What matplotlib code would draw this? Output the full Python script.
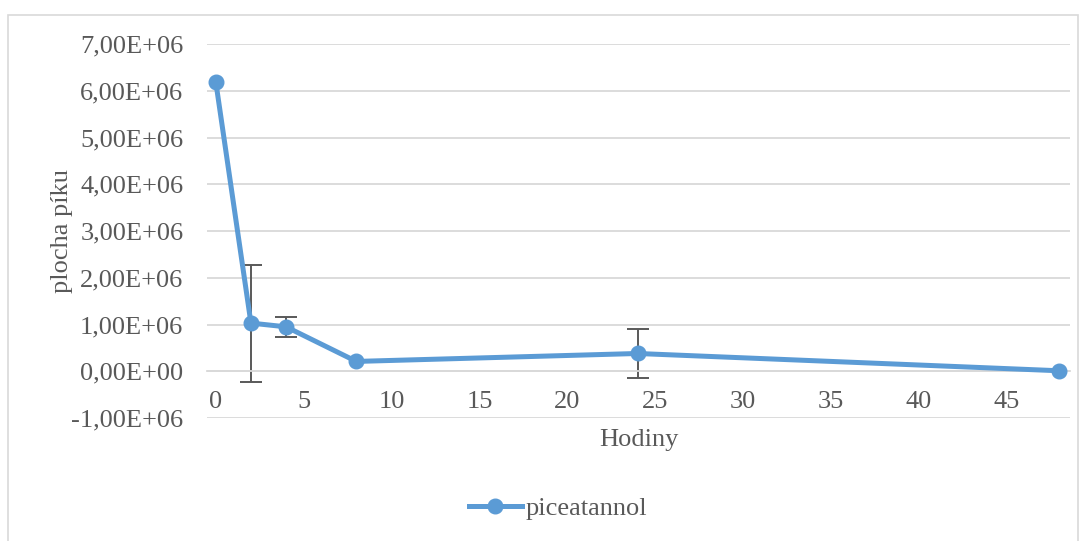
import matplotlib
matplotlib.use("Agg")

import matplotlib.pyplot as plt
from matplotlib.patches import Rectangle
from matplotlib.ticker import FuncFormatter, MultipleLocator

hours = [0, 2, 4, 8, 24, 48]
peak_area = [6.19e6, 1.03e6, 0.95e6, 0.21e6, 0.38e6, 0.01e6]
peak_err = [0, 1.25e6, 0.22e6, 0, 0.52e6, 0]

series_label = "piceatannol"
x_title = "Hodiny"
y_title = "plocha píku"

blue = "#5B9BD5"
text_gray = "#595959"
grid_gray = "#D9D9D9"

plt.rcParams["font.family"] = ["Liberation Serif", "DejaVu Serif"]

fig = plt.figure(figsize=(10.88, 5.41), dpi=100)
ax = fig.add_axes([207 / 1088, 1 - 418 / 541, 863 / 1088, 374 / 541])

# chart border like the Excel chart area
fig.patches.append(Rectangle((8 / 1088, -0.1), 1070 / 1088, 1.1 - 15 / 541,
                             transform=fig.transFigure, fill=False,
                             edgecolor=grid_gray, linewidth=1.2))

# only points with a non-zero spread get an error bar (no stray caps)
eb_x = [h for h, e in zip(hours, peak_err) if e > 0]
eb_y = [v for v, e in zip(peak_area, peak_err) if e > 0]
eb_e = [e for e in peak_err if e > 0]
ax.errorbar(eb_x, eb_y, yerr=eb_e, fmt="none", ecolor=text_gray,
            elinewidth=1.4, capsize=8, capthick=1.4, zorder=2)
ax.plot(hours, peak_area, color=blue, linewidth=3.6, marker="o",
        markersize=10.5, label=series_label, zorder=3)

ax.set_xlim(-0.5, 48.6)
ax.set_ylim(-1e6, 7e6)
ax.xaxis.set_major_locator(MultipleLocator(5))
ax.yaxis.set_major_locator(MultipleLocator(1e6))


def sci_comma(v, pos):
    s = f"{v:.2E}"
    return s.replace(".", ",")


ax.yaxis.set_major_formatter(FuncFormatter(sci_comma))
ax.grid(axis="y", color=grid_gray, linewidth=1.3)
ax.set_axisbelow(True)
for side in ["top", "right", "left"]:
    ax.spines[side].set_visible(False)
ax.spines["bottom"].set_position(("data", 0))
ax.spines["bottom"].set_color(grid_gray)
ax.spines["bottom"].set_linewidth(1.3)

ax.tick_params(axis="both", length=0, labelsize=19, labelcolor=text_gray)
ax.tick_params(axis="y", pad=17)
ax.tick_params(axis="x", pad=14)

ax.set_xlabel(x_title, fontsize=19, color=text_gray)
ax.xaxis.set_label_coords(0.5, (418 - 440) / 374)
ax.xaxis.label.set_va("center")
ax.set_ylabel(y_title, fontsize=19, color=text_gray)
ax.yaxis.set_label_coords((62 - 207) / 863, 0.5)
ax.yaxis.label.set_va("center")

leg = ax.legend(loc="center", bbox_to_anchor=(558 / 1088, 1 - 508 / 541),
                bbox_transform=fig.transFigure, frameon=False, fontsize=19,
                handlelength=2.0, handletextpad=0.15)
for t in leg.get_texts():
    t.set_color(text_gray)

fig.savefig("out.png", dpi=100)
